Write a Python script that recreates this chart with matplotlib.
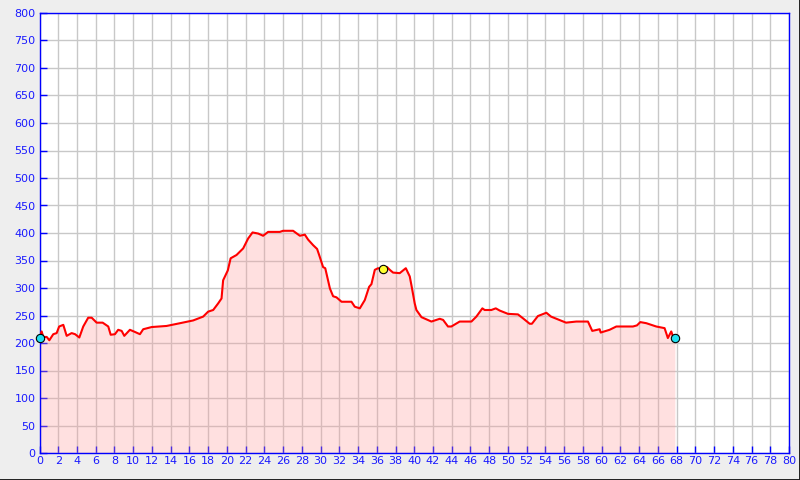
import matplotlib
matplotlib.use("Agg")
import matplotlib.pyplot as plt
from matplotlib.lines import Line2D
import numpy as np

dist_km = [0.0, 0.23, 0.4, 0.77, 1.05, 1.47, 1.83, 2.1, 2.54, 2.9, 3.43, 3.8, 4.25, 4.67, 5.2, 5.57,
           6.1, 6.74, 7.34, 7.6, 8.05, 8.4, 8.77, 9.05, 9.65, 10.2, 10.72, 11.07, 11.97, 13.57, 15.0,
           16.4, 17.47, 18.0, 18.54, 19.07, 19.43, 19.6, 20.1, 20.4, 21.03, 21.74, 22.27, 22.74,
           23.34, 23.87, 24.4, 25.65, 26.0, 27.07, 27.79, 28.32, 28.67, 29.2, 29.63, 29.85, 30.27,
           30.5, 31.0, 31.34, 31.7, 32.24, 33.3, 33.65, 34.19, 34.72, 35.18, 35.43, 35.79, 36.14,
           36.67, 37.1, 37.39, 37.74, 38.45, 39.1, 39.52, 39.7, 40.05, 40.23, 40.77, 41.83, 42.72,
           43.08, 43.6, 43.96, 44.85, 46.1, 46.63, 47.27, 47.52, 48.23, 48.7, 49.12, 50.0, 51.07,
           51.6, 52.32, 52.56, 53.2, 54.1, 54.6, 56.2, 57.3, 58.54, 59.0, 59.79, 59.9, 60.85,
           61.57, 63.34, 63.77, 64.13, 64.77, 65.83, 66.72, 67.07, 67.43, 67.6, 67.82]
elev_m = [210, 221, 211, 211, 205, 216, 218, 230, 233, 213, 218, 216, 210, 230, 246, 246,
          237, 237, 230, 215, 216, 224, 222, 213, 224, 220, 216, 225, 229, 231, 236,
          241, 248, 257, 260, 272, 281, 314, 332, 354, 360, 372, 390, 401,
          399, 395, 402, 402, 404, 404, 395, 397, 388, 378, 371, 360, 338,
          336, 299, 285, 283, 275, 275, 266, 263, 278, 302, 307, 333, 336,
          334, 338, 333, 328, 327, 336, 321, 305, 272, 260, 247, 239, 244,
          242, 230, 230, 239, 239, 248, 263, 260, 260, 263, 259, 253, 252,
          245, 235, 235, 249, 255, 248, 237, 239, 239, 222, 225, 219, 224,
          230, 230, 232, 238, 236, 230, 227, 209, 221, 213, 209]
marker_start = (0.0, 210)
marker_mid = (36.67, 334)
marker_end = (67.82, 209)
x_ticks = list(range(0, 81, 2))
y_ticks = list(range(0, 801, 50))

fig = plt.figure(figsize=(8, 4.8), dpi=100, facecolor="#eeeeee")
# thin frame: dark on the right and bottom edges
fig.lines.append(Line2D([0, 1], [0.5 / 480, 0.5 / 480], transform=fig.transFigure, color="#202020", linewidth=1.4))
fig.lines.append(Line2D([799.5 / 800, 799.5 / 800], [0, 1], transform=fig.transFigure, color="#202020", linewidth=1.4))

ax = fig.add_axes([39.5 / 800, 27 / 480, 749.5 / 800, 440 / 480])
ax.set_facecolor("white")
ax.set_xlim(0, 80)
ax.set_ylim(0, 800)
ax.set_xticks(x_ticks)
ax.set_yticks(y_ticks)
ax.grid(True, color="#c8c8c8", linewidth=1, zorder=0)
ax.set_axisbelow(True)

ax.fill_between(dist_km, 0, elev_m, color="#ff9a9a", alpha=0.3, linewidth=0, zorder=2)
ax.plot(dist_km, elev_m, color="#ff0000", linewidth=1.5, zorder=3)
for (mx, my), c in [(marker_start, "#22e0f0"), (marker_mid, "#ffff30"), (marker_end, "#22e0f0")]:
    ax.plot([mx], [my], "o", markersize=6, markerfacecolor=c, markeredgecolor="black",
            markeredgewidth=0.8, zorder=5, clip_on=False)

for s in ax.spines.values():
    s.set_color("#0000ff")
    s.set_linewidth(1.0)
ax.tick_params(axis="both", direction="in", length=5, width=1, color="#0000ff",
               labelcolor="#1a1aff", labelsize=8, pad=2)
ax.tick_params(axis="y", pad=3)

fig.savefig("out.png", dpi=100, facecolor=fig.get_facecolor())
